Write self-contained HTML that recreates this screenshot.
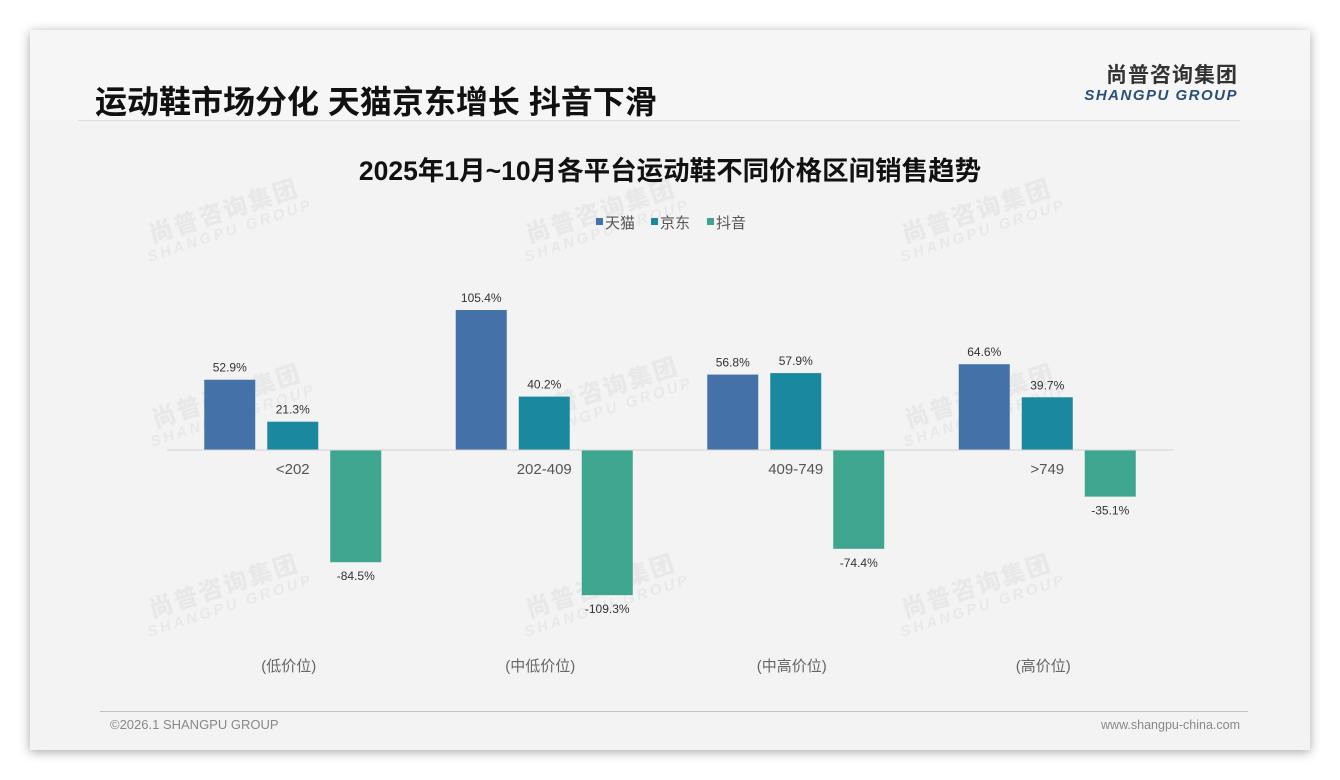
<!DOCTYPE html>
<html><head><meta charset="utf-8">
<style>
body{margin:0;width:1340px;height:780px;background:#fff;font-family:"Liberation Sans","Noto Sans CJK SC",sans-serif;overflow:hidden;position:relative}
#card{position:absolute;left:30px;top:30px;width:1280px;height:720px;background:#f3f3f3;box-shadow:0 2px 10px rgba(0,0,0,0.35)}
#hdr{position:absolute;left:0;top:0;width:1280px;height:90px;background:#f6f6f6}
.wm{position:absolute;transform:rotate(-18deg);color:rgba(0,0,0,0.045);font-weight:bold;text-align:center;line-height:1}
.wm b{display:block;font-size:24px;letter-spacing:2px}
.wm i{display:block;font-size:15px;letter-spacing:3px;font-style:italic}
</style></head><body>
<div id="card">
<div id="hdr"></div>
</div>
<div style="position:absolute;left:95px;top:77px;font-size:32px;font-weight:bold;color:#111">运动鞋市场分化 天猫京东增长 抖音下滑</div>
<div style="position:absolute;left:78px;top:120px;width:1162px;height:1px;background:#ddd"></div>
<div style="position:absolute;left:1078px;top:64px;width:160px;text-align:right">
<div style="font-size:21px;font-weight:bold;color:#333;letter-spacing:1px;line-height:23px">尚普咨询集团</div>
<div style="font-size:15px;font-weight:bold;font-style:italic;color:#2a4f78;letter-spacing:1.5px;line-height:17px">SHANGPU GROUP</div>
</div>
<div style="position:absolute;left:0;width:1340px;top:149px;text-align:center;font-size:26.5px;font-weight:bold;color:#111">2025年1月~10月各平台运动鞋不同价格区间销售趋势</div>
<div id="wms"></div>
<svg id="chart" width="1340" height="780" style="position:absolute;left:0;top:0"></svg>
<div style="position:absolute;left:100px;top:711px;width:1148px;height:1px;background:#b8c4d0"></div>
<div style="position:absolute;left:110px;top:717px;font-size:13px;color:#888">©2026.1 SHANGPU GROUP</div>
<div style="position:absolute;right:100px;top:718px;font-size:12.5px;color:#888">www.shangpu-china.com</div>
<script>
const categories=["<202","202-409","409-749",">749"];
const tiers=["(低价位)","(中低价位)","(中高价位)","(高价位)"];
const seriesNames=["天猫","京东","抖音"];
const tmall=[52.9,105.4,56.8,64.6];
const jd=[21.3,40.2,57.9,39.7];
const douyin=[-84.5,-109.3,-74.4,-35.1];
const colors=["#4472a8","#1a889f","#3ea58f"];
const NS="http://www.w3.org/2000/svg";
const svg=document.getElementById('chart');
const x0=167,x1=1173,zeroY=450,pxPer=1.328,barW=51,gap=12;
const gw=(x1-x0)/categories.length;
function yv(v){return zeroY-v*pxPer;}
function gc(i){return x0+gw*(i+0.5);}
function mk(t,a){const e=document.createElementNS(NS,t);for(const k in a)e.setAttribute(k,a[k]);svg.appendChild(e);return e;}
const series=[tmall,jd,douyin];
series.forEach((s,si)=>{s.forEach((v,i)=>{
 const cx=gc(i)+(si-1)*(barW+gap);
 const r=mk('rect',{x:cx-barW/2,y:Math.min(yv(v),zeroY),width:barW,height:Math.abs(v*pxPer),fill:colors[si]});
 
 
 const t=mk('text',{x:cx,y:v>=0?yv(v)-8:yv(v)+18,'text-anchor':'middle','font-size':12,fill:'#333'});
 t.textContent=v.toFixed(1)+'%';
 
 
});});
const ax=mk('line',{x1:x0,x2:x1,y1:zeroY,y2:zeroY,stroke:'#d0d0d0','stroke-width':1});


categories.forEach((c,i)=>{
 const t=mk('text',{x:gc(i),y:474,'text-anchor':'middle','font-size':15,fill:'#555'});
 t.textContent=c;
 
 
 const t2=mk('text',{x:gc(i)-4,y:671,'text-anchor':'middle','font-size':15,fill:'#666'});
 t2.textContent=tiers[i];
 
 
});
const lx=[596,651,707];
seriesNames.forEach((n,i)=>{
 const r=mk('rect',{x:lx[i],y:218,width:7,height:7,fill:colors[i]});
 
 
 const t=mk('text',{x:lx[i]+9,y:228,'font-size':15,fill:'#555'});
 t.textContent=n;
 
 
});
const wmPos=[[140,200],[517,200],[893,200],[143,385],[520,378],[896,385],[140,575],[517,575],[893,575]];
const wms=document.getElementById('wms');
wmPos.forEach(p=>{const d=document.createElement('div');d.className='wm';d.style.left=p[0]+'px';d.style.top=p[1]+'px';
d.innerHTML='<b>尚普咨询集团</b><i>SHANGPU GROUP</i>';


wms.appendChild(d);});
</script>
</body></html>
